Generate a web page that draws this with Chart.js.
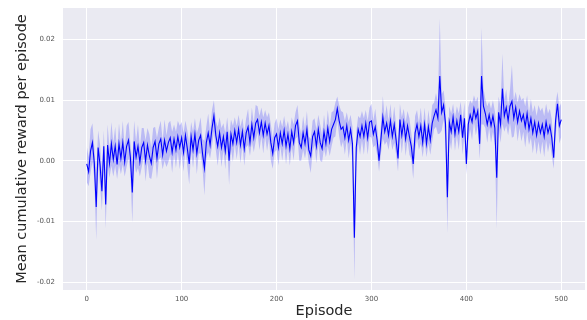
<!DOCTYPE html>
<html>
<head>
<meta charset="utf-8">
<script src="https://cdn.jsdelivr.net/npm/chart.js@4.4.0/dist/chart.umd.min.js"></script>
<style>
  html, body { margin: 0; background: #fff; }
</style>
</head>
<body>
<canvas id="rewardChart" width="587" height="320"></canvas>
<script>
// one sample every 2 episodes, 0..500
const EPISODE_STEP = 2;

const meanReward = [
  -0.0005, -0.0018, 0.0016, 0.0030, -0.0004,
  -0.0076, 0.0022, -0.0006, -0.0050, 0.0024,
  -0.0072, 0.0026, -0.0004, 0.0028, 0.0002,
  0.0024, -0.0006, 0.0028, 0.0004, 0.0030,
  -0.0002, 0.0024, 0.0034, 0.0006, -0.0052,
  0.0032, 0.0006, 0.0024, -0.0002, 0.0022,
  0.0030, 0.0000, 0.0026, 0.0008, -0.0004,
  0.0022, 0.0032, 0.0004, 0.0028, 0.0036,
  0.0010, 0.0034, 0.0016, 0.0030, 0.0038,
  0.0014, 0.0036, 0.0018, 0.0040, 0.0022,
  0.0038, 0.0014, 0.0042, 0.0020, -0.0005,
  0.0040, 0.0018, 0.0044, 0.0012, 0.0034,
  0.0042, 0.0012, -0.0012, 0.0030, 0.0046,
  0.0026, 0.0054, 0.0074, 0.0042, 0.0024,
  0.0046, 0.0022, 0.0040, 0.0016, 0.0048,
  0.0000, 0.0044, 0.0028, 0.0050, 0.0030,
  0.0052, 0.0026, 0.0048, 0.0020, 0.0046,
  0.0056, 0.0030, 0.0060, 0.0038, 0.0062,
  0.0068, 0.0046, 0.0064, 0.0042, 0.0062,
  0.0044, 0.0058, 0.0030, 0.0012, 0.0038,
  0.0044, 0.0022, 0.0046, 0.0028, 0.0050,
  0.0024, 0.0044, 0.0020, 0.0048, 0.0030,
  0.0058, 0.0066, 0.0030, 0.0022, 0.0046,
  0.0028, 0.0052, 0.0018, 0.0008, 0.0040,
  0.0048, 0.0024, 0.0052, 0.0030, 0.0020,
  0.0048, 0.0028, 0.0054, 0.0032, 0.0052,
  0.0060, 0.0068, 0.0086, 0.0066, 0.0052,
  0.0056, 0.0038, 0.0058, 0.0034, 0.0052,
  0.0028, -0.0127, 0.0022, 0.0052, 0.0040,
  0.0058, 0.0040, 0.0062, 0.0038, 0.0064,
  0.0066, 0.0044, 0.0056, 0.0034, 0.0000,
  0.0036, 0.0072, 0.0048, 0.0062, 0.0042,
  0.0066, 0.0040, 0.0060, 0.0034, 0.0004,
  0.0068, 0.0042, 0.0064, 0.0036, 0.0058,
  0.0040, 0.0024, -0.0005, 0.0046, 0.0060,
  0.0040, 0.0058, 0.0030, 0.0060, 0.0028,
  0.0056, 0.0034, 0.0062, 0.0074, 0.0084,
  0.0070, 0.0140, 0.0080, 0.0092, 0.0062,
  -0.0060, 0.0064, 0.0048, 0.0072, 0.0044,
  0.0066, 0.0048, 0.0076, 0.0038, 0.0070,
  -0.0005, 0.0060, 0.0076, 0.0064, 0.0086,
  0.0070, 0.0082, 0.0028, 0.0140, 0.0090,
  0.0078, 0.0060, 0.0076, 0.0058, 0.0074,
  0.0054, -0.0028, 0.0080, 0.0060, 0.0119,
  0.0074, 0.0088, 0.0066, 0.0090, 0.0098,
  0.0070, 0.0088, 0.0064, 0.0082, 0.0066,
  0.0076, 0.0056, 0.0078, 0.0052, 0.0070,
  0.0046, 0.0064, 0.0042, 0.0062, 0.0046,
  0.0060, 0.0040, 0.0064, 0.0046, 0.0058,
  0.0038, 0.0005, 0.0066, 0.0094, 0.0058,
  0.0068,
];

// half width of the shaded confidence band
const ciHalfWidth = [
  0.0030, 0.0024, 0.0036, 0.0032, 0.0026,
  0.0055, 0.0028, 0.0034, 0.0032, 0.0026,
  0.0040, 0.0034, 0.0024, 0.0036, 0.0028,
  0.0032, 0.0024, 0.0034, 0.0026, 0.0036,
  0.0024, 0.0034, 0.0030, 0.0024, 0.0050,
  0.0034, 0.0026, 0.0036, 0.0024, 0.0032,
  0.0024, 0.0034, 0.0028, 0.0036, 0.0026,
  0.0032, 0.0024, 0.0034, 0.0026, 0.0030,
  0.0024, 0.0034, 0.0026, 0.0032, 0.0028,
  0.0034, 0.0024, 0.0030, 0.0026, 0.0036,
  0.0026, 0.0032, 0.0024, 0.0030, 0.0034,
  0.0024, 0.0030, 0.0026, 0.0034, 0.0022,
  0.0030, 0.0024, 0.0045, 0.0026, 0.0032,
  0.0022, 0.0030, 0.0026, 0.0024, 0.0032,
  0.0026, 0.0032, 0.0022, 0.0030, 0.0024,
  0.0040, 0.0024, 0.0030, 0.0022, 0.0028,
  0.0024, 0.0030, 0.0022, 0.0028, 0.0024,
  0.0030, 0.0022, 0.0028, 0.0024, 0.0030,
  0.0022, 0.0028, 0.0024, 0.0030, 0.0022,
  0.0028, 0.0022, 0.0030, 0.0025, 0.0024,
  0.0026, 0.0030, 0.0022, 0.0028, 0.0024,
  0.0030, 0.0022, 0.0028, 0.0024, 0.0030,
  0.0022, 0.0026, 0.0030, 0.0022, 0.0028,
  0.0024, 0.0030, 0.0022, 0.0028, 0.0026,
  0.0022, 0.0028, 0.0024, 0.0030, 0.0022,
  0.0028, 0.0022, 0.0030, 0.0024, 0.0028,
  0.0022, 0.0028, 0.0020, 0.0026, 0.0030,
  0.0024, 0.0028, 0.0022, 0.0030, 0.0024,
  0.0028, 0.0070, 0.0026, 0.0022, 0.0030,
  0.0024, 0.0030, 0.0022, 0.0028, 0.0024,
  0.0028, 0.0022, 0.0030, 0.0024, 0.0018,
  0.0024, 0.0035, 0.0022, 0.0030, 0.0024,
  0.0028, 0.0022, 0.0030, 0.0024, 0.0022,
  0.0026, 0.0030, 0.0022, 0.0028, 0.0024,
  0.0030, 0.0022, 0.0025, 0.0028, 0.0024,
  0.0022, 0.0030, 0.0024, 0.0028, 0.0022,
  0.0028, 0.0024, 0.0030, 0.0022, 0.0028,
  0.0026, 0.0095, 0.0030, 0.0024, 0.0028,
  0.0060, 0.0026, 0.0030, 0.0022, 0.0028,
  0.0024, 0.0030, 0.0022, 0.0028, 0.0026,
  0.0018, 0.0028, 0.0024, 0.0030, 0.0022,
  0.0028, 0.0024, 0.0025, 0.0080, 0.0030,
  0.0024, 0.0030, 0.0022, 0.0028, 0.0026,
  0.0028, 0.0085, 0.0026, 0.0030, 0.0058,
  0.0026, 0.0030, 0.0024, 0.0028, 0.0060,
  0.0030, 0.0026, 0.0032, 0.0028, 0.0034,
  0.0028, 0.0034, 0.0030, 0.0026, 0.0032,
  0.0034, 0.0028, 0.0032, 0.0030, 0.0036,
  0.0028, 0.0034, 0.0030, 0.0032, 0.0028,
  0.0030, 0.0018, 0.0028, 0.0020, 0.0030,
  0.0028,
];

const xTicks = [0, 100, 200, 300, 400, 500];
const yTicks = [-0.02, -0.01, 0.0, 0.01, 0.02];

const episodes = meanReward.map((_, i) => i * EPISODE_STEP);
const meanPoints = episodes.map((ep, i) => ({ x: ep, y: meanReward[i] }));
const lowerPoints = episodes.map((ep, i) => ({ x: ep, y: meanReward[i] - ciHalfWidth[i] }));
const upperPoints = episodes.map((ep, i) => ({ x: ep, y: meanReward[i] + ciHalfWidth[i] }));

const plotBackground = {
  id: "plotBackground",
  beforeDraw(chart) {
    const { ctx, chartArea } = chart;
    ctx.save();
    ctx.fillStyle = "#eaeaf2";
    ctx.fillRect(chartArea.left, chartArea.top, chartArea.width, chartArea.height);
    ctx.restore();
  },
};

const tickFont = { family: "DejaVu Sans", size: 7 };
const titleFont = { family: "DejaVu Sans", size: 14.5 };

new Chart(document.getElementById("rewardChart"), {
  type: "line",
  data: {
    datasets: [
      {
        label: "mean",
        data: meanPoints,
        borderColor: "#0000ff",
        borderWidth: 1.1,
        pointRadius: 0,
        fill: false,
      },
      {
        label: "lower",
        data: lowerPoints,
        borderWidth: 0,
        pointRadius: 0,
        fill: false,
      },
      {
        label: "upper",
        data: upperPoints,
        borderWidth: 0,
        pointRadius: 0,
        fill: "-1",
        backgroundColor: "rgba(0, 0, 255, 0.2)",
      },
    ],
  },
  options: {
    responsive: false,
    animation: false,
    layout: { padding: { top: 8, right: 2, left: 0, bottom: 0 } },
    plugins: {
      legend: { display: false },
      tooltip: { enabled: false },
    },
    scales: {
      x: {
        type: "linear",
        min: -25,
        max: 525,
        afterBuildTicks: (axis) => {
          axis.ticks = xTicks.map((v) => ({ value: v }));
        },
        afterFit: (axis) => {
          axis.height = 30;
          axis.paddingLeft = 0;
          axis.paddingRight = 0;
        },
        grid: { color: "#ffffff", lineWidth: 1, drawTicks: false },
        border: { display: false },
        ticks: { font: tickFont, color: "#555555", padding: 5, maxRotation: 0 },
        title: {
          display: true,
          text: "Episode",
          font: titleFont,
          color: "#262626",
          padding: { top: 0, bottom: 0 },
        },
      },
      y: {
        type: "linear",
        min: -0.0213,
        max: 0.0252,
        afterBuildTicks: (axis) => {
          axis.ticks = yTicks.map((v) => ({ value: v }));
        },
        afterFit: (axis) => {
          axis.width = 63;
          axis.paddingTop = 0;
          axis.paddingBottom = 0;
        },
        grid: { color: "#ffffff", lineWidth: 1, drawTicks: false },
        border: { display: false },
        ticks: {
          font: tickFont,
          color: "#555555",
          padding: 8,
          callback: (v) => v.toFixed(2),
        },
        title: {
          display: true,
          text: "Mean cumulative reward per episode",
          font: titleFont,
          color: "#262626",
          padding: { top: 14, bottom: 0 },
        },
      },
    },
  },
  plugins: [plotBackground],
});
</script>
</body>
</html>
